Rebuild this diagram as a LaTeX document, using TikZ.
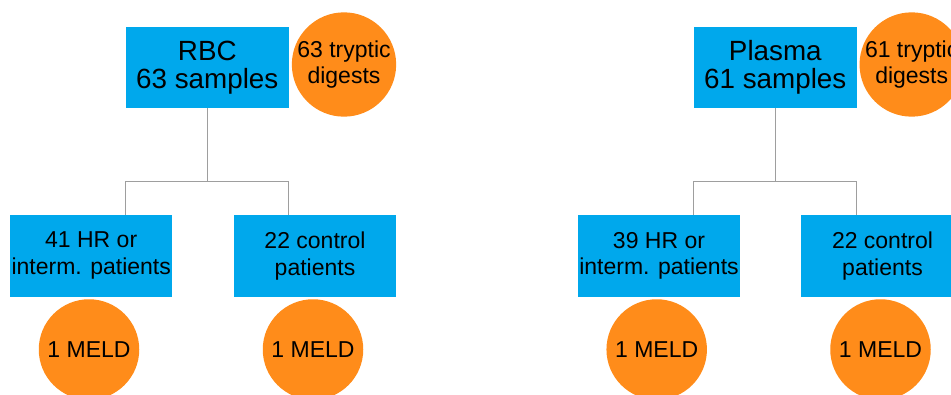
\documentclass[tikz,border=0pt]{standalone}
\usepackage{fontspec}
\setmainfont{Liberation Sans}
\definecolor{boxblue}{RGB}{0,168,236}
\definecolor{dotorange}{RGB}{255,140,26}
\definecolor{linegray}{RGB}{158,158,158}
\begin{document}
\begin{tikzpicture}[x=1pt,y=-1pt,
  topbox/.style={fill=boxblue,inner sep=0pt,minimum width=162.7pt,minimum height=81pt,align=center,
    font=\fontsize{27.8}{28.5}\selectfont},
  subbox/.style={fill=boxblue,inner sep=0pt,minimum width=162.5pt,minimum height=81.5pt,align=center,
    font=\fontsize{23}{26.7}\selectfont},
  dot/.style={circle,fill=dotorange,inner sep=0pt,minimum size=#1,align=center,
    font=\fontsize{23}{26}\selectfont},
  conn/.style={draw=linegray,line width=1.1pt}]
\clip (0,0) rectangle (951,394);
\useasboundingbox (0,0) rectangle (951,394);
% left tree
\node[topbox] (rbc) at (207.3,67.5) {RBC\\63 samples};
\node[dot=102pt] (rbcd) at (344,64.5) {63 tryptic\\digests};
\node[subbox] (hr1) at (91.2,255.8) {41 HR or\\interm. patients};
\node[subbox] (c1) at (315,255.8) {22 control\\patients};
\node[dot=100.5pt] (m1) at (89,349.5) {1 MELD};
\node[dot=100.5pt] (m2) at (313,349.5) {1 MELD};
\draw[conn] (rbc.south) -- ++(0,73.7) coordinate (j1);
\draw[conn] (rbc.south west |- hr1.north) -- (rbc.south west |- j1) -- (rbc.south east |- j1) -- (rbc.south east |- c1.north);
% right tree
\node[topbox] (pl) at (775.3,67.5) {Plasma\\61 samples};
\node[dot=102pt] (pld) at (911.7,64.5) {61 tryptic\\digests};
\node[subbox] (hr2) at (659,255.8) {39 HR or\\interm. patients};
\node[subbox] (c2) at (882.5,255.8) {22 control\\patients};
\node[dot=100.5pt] (m3) at (656.7,349.5) {1 MELD};
\node[dot=100.5pt] (m4) at (880.5,349.5) {1 MELD};
\draw[conn] (pl.south) -- ++(0,73.7) coordinate (j2);
\draw[conn] (pl.south west |- hr2.north) -- (pl.south west |- j2) -- (pl.south east |- j2) -- (pl.south east |- c2.north);
\end{tikzpicture}
\end{document}
